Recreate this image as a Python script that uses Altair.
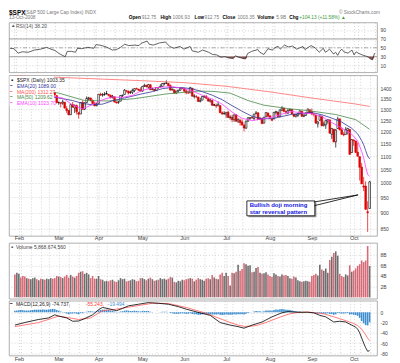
import datetime as dt
import numpy as np
import pandas as pd
import altair as alt

FONT = "Liberation Sans"
W = 369

# ---------------- trading days (2008) ----------------
JAN_DAYS = [30, 31]
FEB_DAYS = [1, 4, 5, 6, 7, 8, 11, 12, 13, 14, 15, 19, 20, 21, 22, 25, 26, 27, 28, 29]
MAR_DAYS = [3, 4, 5, 6, 7, 10, 11, 12, 13, 14, 17, 18, 19, 20, 24, 25, 26, 27, 28, 31]
APR_DAYS = [1, 2, 3, 4, 7, 8, 9, 10, 11, 14, 15, 16, 17, 18, 21, 22, 23, 24, 25, 28, 29, 30]
MAY_DAYS = [1, 2, 5, 6, 7, 8, 9, 12, 13, 14, 15, 16, 19, 20, 21, 22, 23, 27, 28, 29, 30]
JUN_DAYS = [2, 3, 4, 5, 6, 9, 10, 11, 12, 13, 16, 17, 18, 19, 20, 23, 24, 25, 26, 27, 30]
JUL_DAYS = [1, 2, 3, 7, 8, 9, 10, 11, 14, 15, 16, 17, 18, 21, 22, 23, 24, 25, 28, 29, 30, 31]
AUG_DAYS = [1, 4, 5, 6, 7, 8, 11, 12, 13, 14, 15, 18, 19, 20, 21, 22, 25, 26, 27, 28, 29]
SEP_DAYS = [2, 3, 4, 5, 8, 9, 10, 11, 12, 15, 16, 17, 18, 19, 22, 23, 24, 25, 26, 29, 30]
OCT_DAYS = [1, 2, 3, 6, 7, 8, 9, 10, 13]

PREV_CLOSE = 1362.3

# ---------------- OHLC (open, high, low, close) ----------------
JAN_OHLC = [(1362.2, 1385.9, 1353.0, 1355.8), (1352.0, 1385.6, 1334.1, 1378.6)]
FEB_OHLC = [
    (1378.6, 1396.0, 1375.9, 1395.4), (1395.4, 1395.4, 1379.7, 1380.8), (1380.3, 1380.3, 1336.6, 1336.6),
    (1339.5, 1352.0, 1324.3, 1326.5), (1324.0, 1347.2, 1316.8, 1336.9), (1336.9, 1341.2, 1321.1, 1331.3),
    (1331.9, 1341.4, 1320.3, 1339.1), (1340.6, 1362.1, 1339.4, 1348.9), (1353.1, 1369.2, 1350.8, 1367.2),
    (1367.3, 1368.2, 1347.3, 1348.9), (1347.5, 1350.0, 1338.1, 1350.0), (1355.9, 1367.3, 1345.1, 1348.8),
    (1348.4, 1363.7, 1336.6, 1360.0), (1362.2, 1367.9, 1339.3, 1342.5), (1344.2, 1354.3, 1327.0, 1353.1),
    (1352.8, 1374.4, 1346.0, 1371.8), (1371.8, 1387.3, 1363.3, 1381.3), (1379.0, 1388.3, 1372.0, 1380.0),
    (1378.2, 1378.2, 1363.2, 1367.7), (1364.1, 1364.1, 1325.4, 1330.6)]
MAR_OHLC = [
    (1330.5, 1335.1, 1320.0, 1331.3), (1329.6, 1331.0, 1307.4, 1326.8), (1327.7, 1344.2, 1320.2, 1333.7),
    (1332.2, 1332.2, 1303.4, 1304.3), (1301.5, 1313.2, 1282.4, 1293.4), (1293.2, 1295.0, 1272.7, 1273.4),
    (1274.4, 1320.7, 1274.4, 1320.7), (1321.1, 1333.3, 1307.9, 1308.8), (1305.3, 1321.7, 1282.1, 1315.5),
    (1316.1, 1321.5, 1274.9, 1288.1), (1283.2, 1287.5, 1257.0, 1276.6), (1277.2, 1330.7, 1277.2, 1330.7),
    (1331.0, 1341.5, 1298.4, 1298.4), (1299.7, 1330.7, 1295.2, 1329.5), (1330.3, 1359.7, 1330.3, 1349.9),
    (1349.1, 1357.5, 1341.2, 1353.0), (1352.5, 1352.5, 1336.4, 1341.1), (1340.3, 1345.6, 1325.7, 1325.8),
    (1327.0, 1334.9, 1313.0, 1315.2), (1315.9, 1328.5, 1312.8, 1322.7)]
APR_OHLC = [
    (1326.4, 1370.2, 1326.4, 1370.2), (1370.0, 1378.0, 1361.6, 1367.5), (1365.7, 1375.7, 1358.7, 1369.3),
    (1369.9, 1380.9, 1362.8, 1370.4), (1373.7, 1386.7, 1369.0, 1372.5), (1370.2, 1370.2, 1360.6, 1365.5),
    (1365.5, 1368.4, 1350.0, 1354.5), (1355.4, 1367.2, 1350.1, 1360.6), (1358.0, 1358.0, 1331.2, 1332.8),
    (1332.2, 1335.6, 1326.2, 1328.3), (1331.7, 1337.7, 1324.4, 1334.4), (1337.0, 1365.5, 1337.0, 1364.7),
    (1363.4, 1368.6, 1357.3, 1365.6), (1369.0, 1395.9, 1369.0, 1390.3), (1387.7, 1390.2, 1379.3, 1388.2),
    (1386.4, 1386.4, 1369.8, 1375.9), (1378.4, 1387.9, 1372.2, 1379.9), (1380.5, 1397.7, 1371.1, 1388.8),
    (1387.9, 1399.1, 1380.0, 1397.8), (1398.0, 1402.9, 1394.4, 1396.4), (1395.6, 1397.0, 1386.7, 1390.9),
    (1391.2, 1404.6, 1384.3, 1385.6)]
MAY_OHLC = [
    (1386.0, 1410.1, 1383.1, 1409.3), (1409.2, 1422.7, 1406.3, 1413.9), (1415.3, 1415.3, 1404.4, 1407.5),
    (1405.6, 1421.6, 1397.1, 1418.3), (1417.5, 1419.5, 1391.2, 1392.6), (1394.3, 1402.4, 1389.4, 1397.7),
    (1394.9, 1394.9, 1384.1, 1388.3), (1389.4, 1404.1, 1386.2, 1403.6), (1404.4, 1406.3, 1396.3, 1403.0),
    (1405.7, 1420.2, 1405.7, 1408.7), (1408.4, 1424.4, 1406.9, 1423.6), (1423.9, 1425.8, 1414.4, 1425.4),
    (1425.3, 1440.2, 1421.6, 1426.6), (1424.5, 1424.5, 1409.1, 1413.4), (1414.1, 1419.1, 1388.8, 1390.7),
    (1390.8, 1399.1, 1390.2, 1394.4), (1392.2, 1392.2, 1373.7, 1375.9), (1376.0, 1387.4, 1373.1, 1385.4),
    (1386.5, 1391.3, 1378.2, 1390.8), (1390.5, 1406.3, 1388.6, 1398.3), (1398.4, 1404.5, 1398.1, 1400.4)]
JUN_OHLC = [
    (1399.6, 1399.6, 1377.8, 1385.7), (1386.4, 1393.1, 1370.1, 1377.7), (1376.3, 1388.2, 1371.7, 1377.2),
    (1377.5, 1404.1, 1377.5, 1404.1), (1400.1, 1400.1, 1359.9, 1360.7), (1360.8, 1370.6, 1350.6, 1361.8),
    (1359.0, 1366.8, 1351.6, 1358.4), (1357.1, 1357.1, 1335.5, 1335.5), (1335.8, 1353.0, 1331.3, 1339.9),
    (1341.8, 1360.0, 1341.7, 1360.0), (1358.9, 1364.7, 1352.1, 1360.1), (1360.7, 1366.6, 1350.5, 1350.9),
    (1349.6, 1349.6, 1333.4, 1337.8), (1336.9, 1347.7, 1330.5, 1342.8), (1341.0, 1341.0, 1314.5, 1317.9),
    (1319.8, 1323.8, 1315.3, 1318.0), (1317.2, 1326.0, 1304.4, 1314.3), (1314.5, 1335.6, 1314.5, 1322.0),
    (1316.3, 1316.3, 1283.2, 1283.2), (1283.6, 1289.5, 1272.0, 1278.4), (1278.1, 1290.3, 1274.9, 1280.0)]
JUL_OHLC = [
    (1276.7, 1285.3, 1260.7, 1284.9), (1285.8, 1292.2, 1261.5, 1261.5), (1263.0, 1271.5, 1252.0, 1262.9),
    (1262.9, 1274.0, 1240.7, 1252.3), (1251.8, 1274.2, 1242.8, 1273.7), (1273.4, 1277.4, 1244.6, 1244.7),
    (1245.3, 1257.7, 1236.8, 1253.4), (1248.7, 1257.3, 1225.4, 1239.5), (1241.6, 1253.5, 1225.0, 1228.3),
    (1226.8, 1234.4, 1200.4, 1214.9), (1214.7, 1245.5, 1211.4, 1245.4), (1246.3, 1262.3, 1241.5, 1260.3),
    (1258.2, 1262.2, 1251.8, 1260.7), (1261.8, 1267.7, 1255.7, 1260.0), (1257.1, 1277.4, 1248.8, 1277.0),
    (1278.9, 1291.2, 1276.1, 1282.2), (1283.2, 1283.2, 1251.5, 1252.5), (1253.5, 1263.2, 1251.8, 1257.8),
    (1257.8, 1260.1, 1234.4, 1234.4), (1236.4, 1263.2, 1236.4, 1263.2), (1264.5, 1284.3, 1264.5, 1284.3),
    (1281.4, 1284.9, 1266.0, 1267.4)]
AUG_OHLC = [
    (1269.4, 1270.5, 1254.5, 1260.3), (1253.3, 1260.5, 1247.5, 1249.0), (1254.9, 1284.9, 1254.7, 1284.9),
    (1284.0, 1291.7, 1276.0, 1289.2), (1286.5, 1286.5, 1264.3, 1266.1), (1266.3, 1297.9, 1262.1, 1296.3),
    (1294.4, 1313.2, 1291.4, 1305.3), (1304.8, 1304.8, 1285.6, 1289.6), (1288.6, 1294.0, 1274.9, 1285.8),
    (1282.1, 1300.1, 1276.8, 1292.9), (1293.9, 1302.1, 1290.7, 1298.2), (1298.1, 1300.2, 1274.5, 1278.6),
    (1276.7, 1276.7, 1263.1, 1266.7), (1267.3, 1276.0, 1261.2, 1274.5), (1271.1, 1281.4, 1264.4, 1277.7),
    (1277.6, 1293.1, 1277.6, 1292.2), (1290.5, 1290.5, 1264.9, 1266.8), (1267.0, 1275.7, 1263.2, 1271.5),
    (1271.3, 1285.1, 1270.0, 1281.7), (1283.8, 1300.7, 1283.8, 1300.7), (1296.5, 1296.5, 1282.7, 1282.8)]
SEP_OHLC = [
    (1287.8, 1303.0, 1272.2, 1277.6), (1276.6, 1280.6, 1265.6, 1275.0), (1271.8, 1271.8, 1232.8, 1236.8),
    (1233.2, 1244.9, 1217.2, 1242.3), (1249.5, 1274.4, 1247.1, 1267.8), (1268.0, 1268.7, 1224.5, 1224.5),
    (1227.5, 1243.9, 1221.6, 1232.0), (1229.0, 1250.0, 1211.5, 1249.1), (1245.9, 1255.1, 1233.8, 1251.7),
    (1250.9, 1250.9, 1192.7, 1192.7), (1188.3, 1214.8, 1169.3, 1213.6), (1210.3, 1210.3, 1155.9, 1156.4),
    (1157.1, 1211.1, 1133.5, 1206.5), (1213.1, 1265.1, 1213.1, 1255.1), (1255.4, 1255.4, 1205.6, 1207.1),
    (1207.6, 1219.2, 1188.2, 1188.2), (1188.8, 1197.4, 1179.8, 1185.9), (1187.9, 1220.0, 1187.9, 1209.2),
    (1204.5, 1215.8, 1187.5, 1213.3), (1209.1, 1209.1, 1106.4, 1106.4), (1113.8, 1168.0, 1113.8, 1166.4)]
OCT_OHLC = [
    (1164.2, 1167.0, 1140.8, 1161.1), (1160.6, 1160.6, 1111.4, 1114.3), (1115.2, 1153.8, 1098.1, 1099.2),
    (1097.6, 1097.6, 1008.0, 1056.9), (1057.6, 1072.9, 996.2, 996.2), (988.9, 1021.1, 971.0, 984.9),
    (988.4, 1005.3, 909.2, 909.9), (902.3, 936.4, 839.8, 899.2), (912.75, 1006.93, 912.75, 1003.35)]

# ---------------- volume (billions) ----------------
JAN_VOL = [4.3, 4.6]
FEB_VOL = [4.4, 3.7, 4.0, 3.9, 3.6, 3.5, 3.4, 3.6, 3.7, 3.4, 3.2, 3.5, 3.4, 3.3, 3.5, 3.4, 3.6, 3.5, 3.6, 4.0]
MAR_VOL = [3.9, 3.8, 3.6, 3.9, 4.2, 3.7, 4.2, 3.9, 3.7, 4.0, 4.6, 4.8, 4.9, 4.4, 4.6, 4.3, 3.6, 4.0, 3.5, 3.5]
APR_VOL = [4.0, 3.4, 3.3, 3.0, 3.1, 3.0, 3.2, 3.3, 3.0, 2.9, 3.2, 3.6, 3.4, 3.5, 3.0, 3.1, 3.2, 3.4, 3.3, 3.0, 3.1, 3.6]
MAY_VOL = [3.6, 3.4, 3.2, 3.5, 3.7, 3.4, 3.1, 3.2, 3.3, 3.6, 3.4, 3.5, 3.3, 3.5, 3.8, 3.7, 2.9, 2.8, 3.1, 3.0, 3.3]
JUN_VOL = [3.2, 3.4, 3.5, 3.6, 3.5, 3.0, 3.3, 3.6, 3.4, 3.3, 3.1, 3.5, 3.6, 3.4, 4.2, 3.7, 3.5, 3.4, 4.3, 4.6, 4.0]
JUL_VOL = [4.6, 4.0, 2.2, 4.6, 4.5, 4.8, 6.1, 5.0, 5.3, 6.4, 6.2, 5.9, 6.0, 4.7, 4.8, 5.5, 5.7, 4.6, 4.4, 4.5, 4.7, 4.3]
AUG_VOL = [4.0, 3.8, 4.5, 4.3, 4.0, 3.9, 4.3, 4.1, 4.2, 4.0, 3.6, 3.5, 3.9, 3.7, 3.2, 3.0, 2.9, 3.0, 3.1, 3.0, 2.9]
SEP_VOL = [4.0, 4.2, 4.4, 4.1, 6.1, 5.2, 5.0, 5.4, 4.6, 7.0, 7.6, 8.3, 8.6, 7.8, 4.4, 4.0, 3.8, 4.3, 4.1, 6.0, 4.8]
OCT_VOL = [5.0, 5.4, 5.9, 6.2, 6.9, 6.6, 6.9, 9.6, 5.87]

# ---------------- MACD histogram ----------------
JAN_HIST = [3.0, 3.5]
FEB_HIST = [4.0, 4.5, 4.0, 3.5, 3.5, 3.5, 4.0, 4.5, 5.0, 5.0, 5.0, 5.0, 5.5, 5.0, 5.0, 5.5, 6.0, 6.5, 6.0, 4.5]
MAR_HIST = [3.0, 1.5, 0.5, -1.0, -2.5, -4.0, -2.5, -2.5, -2.0, -3.0, -4.0, -1.5, -2.0, -0.5, 1.0, 2.0, 2.0, 1.5, 1.0, 1.5]
APR_HIST = [3.5, 4.5, 5.0, 5.0, 5.0, 4.5, 3.5, 3.0, 1.5, 0.5, 0.5, 1.5, 2.0, 3.0, 3.5, 3.0, 2.5, 2.5, 3.0, 2.5, 2.0, 1.5]
MAY_HIST = [2.5, 2.5, 2.5, 2.5, 1.0, 0.5, 0.0, 0.0, 0.0, 0.5, 1.0, 1.0, 1.0, 0.0, -1.5, -2.0, -3.0, -3.0, -3.0, -2.5, -2.0]
JUN_HIST = [-2.5, -3.0, -3.0, -2.0, -3.5, -4.0, -4.0, -5.0, -5.0, -4.0, -3.5, -3.5, -3.5, -3.5, -4.5, -4.5, -4.5, -4.0, -5.0, -5.5, -5.0]
JUL_HIST = [-4.5, -5.0, -5.0, -5.0, -4.0, -4.5, -4.0, -4.0, -4.0, -4.5, -3.0, -1.5, -0.5, 0.0, 1.5, 2.5, 2.0, 2.0, 1.0, 2.0, 3.5, 3.5]
AUG_HIST = [3.5, 3.0, 4.5, 5.5, 5.0, 6.0, 6.5, 6.0, 5.0, 5.0, 4.5, 3.5, 2.5, 2.0, 1.5, 1.5, 0.5, 0.0, 0.0, 0.5, 0.0]
SEP_HIST = [-0.5, -1.0, -2.0, -2.5, -1.5, -2.5, -3.0, -2.5, -2.0, -3.5, -3.5, -5.0, -4.0, -1.5, -2.0, -2.5, -2.5, -2.0, -1.5, -4.5, -4.0]
OCT_HIST = [-5.0, -5.5, -7.0, -11.0, -17.0, -21.5, -25.0, -25.6, -19.494]

# ---------------- indicator lines: (day index, value) ----------------
MA200 = [(0, 1462), (22, 1455), (42, 1447), (64, 1438), (85, 1428), (106, 1410), (128, 1382),
         (149, 1352), (170, 1325), (178, 1312.27)]
MA50 = [(0, 1425), (10, 1395), (22, 1376), (35, 1340), (47, 1338), (60, 1349), (76, 1372), (92, 1386),
        (100, 1384), (108, 1376), (117, 1340), (125, 1318), (137, 1302), (147, 1293), (161, 1275),
        (171, 1252), (178, 1209.62)]
EMA20 = [(0, 1368), (4, 1365), (9, 1350), (14, 1351), (19, 1357), (24, 1349), (29, 1340), (34, 1326),
         (39, 1320), (44, 1323), (49, 1339), (54, 1350), (59, 1361), (64, 1373), (69, 1383), (74, 1398),
         (79, 1404), (84, 1403), (89, 1397), (94, 1383), (99, 1366), (104, 1344), (109, 1316), (114, 1290),
         (119, 1267), (124, 1256), (129, 1256), (134, 1266), (139, 1276), (144, 1280), (149, 1284),
         (154, 1274), (159, 1259), (164, 1241), (169, 1214), (172, 1190), (174, 1162), (175, 1145),
         (176, 1122), (177, 1100), (178, 1089.00)]
EMA10 = [(0, 1350), (4, 1352), (9, 1350), (14, 1346), (19, 1360), (24, 1352), (29, 1319), (34, 1301),
         (39, 1321), (44, 1344), (49, 1357), (54, 1355), (59, 1365), (64, 1390), (69, 1401), (74, 1406),
         (79, 1408), (84, 1400), (89, 1386), (94, 1366), (99, 1347), (104, 1323), (109, 1286), (114, 1258),
         (119, 1248), (124, 1255), (129, 1263), (134, 1277), (139, 1289), (144, 1282), (149, 1279),
         (154, 1266), (159, 1239), (164, 1215), (169, 1189), (172, 1160), (174, 1118), (175, 1093),
         (176, 1059), (177, 1030), (178, 1023.70)]
RSI = [(0, 49), (2, 48), (4, 38), (6, 41), (9, 40), (12, 45), (15, 47), (18, 51), (20, 47), (22, 44),
       (24, 37), (27, 30), (28, 42), (30, 42), (32, 40), (33, 49), (35, 48), (38, 51), (41, 49), (42, 57),
       (44, 56), (47, 52), (50, 45), (52, 46), (54, 51), (56, 58), (58, 55), (61, 56), (63, 55), (64, 60),
       (67, 65), (68, 58), (70, 56), (73, 61), (76, 63), (78, 53), (80, 49), (83, 53), (85, 47), (88, 53),
       (89, 43), (92, 40), (94, 45), (97, 40), (99, 35), (101, 34), (103, 29), (105, 30), (107, 27),
       (109, 26), (110, 32), (113, 27), (115, 25), (116, 37), (118, 42), (121, 46), (122, 40), (124, 35),
       (126, 48), (128, 45), (130, 52), (131, 53), (132, 47), (134, 56), (136, 52), (138, 54), (140, 47),
       (143, 53), (144, 46), (147, 55), (149, 50), (151, 40), (153, 49), (154, 40), (155, 43), (156, 47),
       (158, 36), (159, 40), (160, 33), (161, 42), (162, 47), (163, 41), (165, 38), (167, 45), (168, 34),
       (169, 41), (170, 38), (172, 34), (174, 31), (175, 29), (176, 25), (177, 23), (178, 38.2)]
MACD = [(0, -25), (5, -20), (12, -14), (17, -11), (20, -5), (22, -7.5), (26, -11), (29, -17.5), (32, -17),
        (35, -12.5), (39, -5), (42, 5), (44, 9.4), (48, 6), (51, 3), (54, 7.5), (57, 12.5), (62, 15.6),
        (67, 18.8), (72, 17.5), (77, 15.6), (82, 11), (86, 6), (93, -1.3), (98, -6), (103, -20), (108, -25),
        (112, -28), (115, -31), (119, -25), (124, -19), (129, -9), (134, -1), (137, 1.2), (142, 0), (147, 0),
        (150, -1.2), (153, -6), (156, -9), (160, -19), (163, -17.5), (166, -19), (169, -25), (170, -27),
        (171, -29), (172, -33), (173, -40), (174, -50), (175, -60), (176, -69), (177, -76), (178, -74.737)]
SIGNAL = [(0, -28), (12, -20), (22, -7.5), (32, -14), (38, -11), (44, 3), (51, 6), (61, 12.5), (69, 17.5),
          (77, 17), (86, 9.4), (96, -2), (100, -8), (104, -14), (108, -20), (112, -25), (115, -27.5),
          (119, -27), (122, -25), (126, -20), (130, -14), (134, -8), (138, -3), (142, -0.5), (147, 0.5),
          (155, -3), (163, -12.5), (168, -19), (170, -22), (172, -26), (173, -29), (174, -33), (175, -38.5),
          (176, -44), (177, -50.4), (178, -55.243)]

MONTH_NAMES = ['Feb', 'Mar', 'Apr', 'May', 'Jun', 'Jul', 'Aug', 'Sep', 'Oct']

RED = '#e00000'
BLACK = '#000000'
VOLRED = '#d66a76'
VOLGRAY = '#6e6e6e'

# ---------------- build tables ----------------
months = [(1, JAN_DAYS, JAN_OHLC, JAN_VOL, JAN_HIST), (2, FEB_DAYS, FEB_OHLC, FEB_VOL, FEB_HIST),
          (3, MAR_DAYS, MAR_OHLC, MAR_VOL, MAR_HIST), (4, APR_DAYS, APR_OHLC, APR_VOL, APR_HIST),
          (5, MAY_DAYS, MAY_OHLC, MAY_VOL, MAY_HIST), (6, JUN_DAYS, JUN_OHLC, JUN_VOL, JUN_HIST),
          (7, JUL_DAYS, JUL_OHLC, JUL_VOL, JUL_HIST), (8, AUG_DAYS, AUG_OHLC, AUG_VOL, AUG_HIST),
          (9, SEP_DAYS, SEP_OHLC, SEP_VOL, SEP_HIST), (10, OCT_DAYS, OCT_OHLC, OCT_VOL, OCT_HIST)]
rows = []
dates = []
for m, days, ohlc, vol, hist in months:
    assert len(days) == len(ohlc) == len(vol) == len(hist), m
    for d, (o, h, l, c), v, hh in zip(days, ohlc, vol, hist):
        dates.append(dt.date(2008, m, d))
        rows.append(dict(o=o, h=h, l=l, c=c, vol=v, hist=hh))
df = pd.DataFrame(rows)
df['i'] = np.arange(len(df))
prev = df['c'].shift(1).fillna(PREV_CLOSE)
df['col'] = np.where(df['c'] < prev, RED, BLACK)
df['fill'] = np.where(df['c'] >= df['o'], '#ffffff', df['col'])
df['vcol'] = np.where(df['c'] < prev, VOLRED, VOLGRAY)

MONTH_IDX = [i for i in range(1, len(dates)) if dates[i].month != dates[i - 1].month]
WEEK_IDX = [i for i in range(1, len(dates)) if dates[i].isocalendar()[1] != dates[i - 1].isocalendar()[1]]
GRID_X = sorted(set(MONTH_IDX + WEEK_IDX))
LABEL_EXPR = (f"indexof({MONTH_IDX}, datum.value) >= 0 ? "
              f"{MONTH_NAMES}[indexof({MONTH_IDX}, datum.value)] : ''")

x_scale = alt.Scale(domain=[-0.44, 179.21], nice=False, zero=False)
GRID = dict(grid=True, gridColor='#c2c2c2', gridDash=[1, 2], gridWidth=0.7)


def x_axis(labels, pad=1):
    return alt.Axis(values=GRID_X, ticks=False, domain=False, labels=labels, labelExpr=LABEL_EXPR,
                    labelFont=FONT, labelFontSize=5.5, labelColor='#444', labelPadding=pad,
                    labelOverlap=False, labelFlush=False, title=None, **GRID)


def y_axis(values, expr):
    return alt.Axis(orient='right', values=values, ticks=False, domain=False, labelExpr=expr,
                    labelFont=FONT, labelFontSize=5, labelColor='#444', labelPadding=3,
                    labelOverlap=False, labelFlush=False, title=None, **GRID)


def txt(s, x, y, size=5.0, color='#333333', bold=False, align='left'):
    return alt.Chart(pd.DataFrame({'t': [s]})).mark_text(
        align=align, baseline='middle', fontSize=size, font=FONT,
        fontWeight='bold' if bold else 'normal', color=color
    ).encode(text='t:N', x=alt.value(x), y=alt.value(y))


def pts(lst):
    return pd.DataFrame(lst, columns=['i', 'v'])


# ---------------- header ----------------
hx = -8
header = alt.layer(
    txt('$SPX', 0, 3.4, size=6.5, color='#000', bold=True),
    txt('(S&P 500 Large Cap Index) INDX', 16, 3.6, size=4.8, color='#777'),
    txt('© StockCharts.com', 380 + hx, 3.4, size=4.8, color='#777', align='right'),
    txt('13-Oct-2008', 0, 8.6, size=4.8, color='#777'),
    txt('Open', 128 + hx, 8.6, size=4.8, color='#000', bold=True),
    txt('912.75', 141 + hx, 8.6, size=4.8, color='#777'),
    txt('High', 160 + hx, 8.6, size=4.8, color='#000', bold=True),
    txt('1006.93', 172 + hx, 8.6, size=4.8, color='#777'),
    txt('Low', 194 + hx, 8.6, size=4.8, color='#000', bold=True),
    txt('912.75', 204 + hx, 8.6, size=4.8, color='#777'),
    txt('Close', 222 + hx, 8.6, size=4.8, color='#000', bold=True),
    txt('1003.35', 237 + hx, 8.6, size=4.8, color='#777'),
    txt('Volume', 257 + hx, 8.6, size=4.8, color='#000', bold=True),
    txt('5.9B', 276 + hx, 8.6, size=4.8, color='#777'),
    txt('Chg', 289 + hx, 8.6, size=4.8, color='#000', bold=True),
    txt('+104.13 (+11.58%) ▲', 299 + hx, 8.6, size=4.8, color='#3a9a3a'),
).properties(width=W, height=11, view=alt.ViewBackground(stroke='transparent'))

# ---------------- RSI panel ----------------
rsi_y = alt.Scale(domain=[-5, 107], nice=False, zero=False)
rsi_ax = y_axis([10, 30, 50, 70, 90], "datum.value + ''")
rsi_df = pts(RSI)
rsi_df['lo'] = np.minimum(rsi_df['v'], 30)
rsi_x = alt.X('i:Q', scale=x_scale, axis=x_axis(False))
rsi = alt.layer(
    alt.Chart(pd.DataFrame({'v': [30, 70]})).mark_rule(color='#8a8a8a', strokeWidth=0.8).encode(
        y=alt.Y('v:Q', scale=rsi_y, axis=rsi_ax)),
    alt.Chart(pd.DataFrame({'v': [50]})).mark_rule(color='#8a8a8a', strokeWidth=0.7,
                                                   strokeDash=[4, 2, 1, 2]).encode(
        y=alt.Y('v:Q', scale=rsi_y, axis=rsi_ax)),
    alt.Chart(rsi_df).mark_area(color='#9c4f4f').encode(
        x=rsi_x, y=alt.Y('lo:Q', scale=rsi_y, axis=rsi_ax), y2=alt.datum(30)),
    alt.Chart(rsi_df).mark_line(color='#222222', strokeWidth=0.7).encode(
        x=rsi_x, y=alt.Y('v:Q', scale=rsi_y, axis=rsi_ax)),
    txt('▲', 2, 4, size=4.5, color='#555'),
    txt('RSI(14) 38.20', 7, 4, size=5, color='#555'),
).properties(width=W, height=50)

# ---------------- price panel ----------------
p_scale = alt.Scale(type='log', domain=[828, 1466], nice=False)
p_ax = y_axis(list(range(850, 1401, 50)), "datum.value + ''")
px = alt.X('i:Q', scale=x_scale, axis=x_axis(True, pad=0))


def pline(lst, color):
    return alt.Chart(pts(lst)).mark_line(color=color, strokeWidth=0.8).encode(
        x=px, y=alt.Y('v:Q', scale=p_scale, axis=p_ax))


callout_box = pd.DataFrame({'i': [116.4], 'i2': [150.5], 'p': [937.6], 'p2': [889.2]})
callout_shadow = pd.DataFrame({'i': [117.2], 'i2': [151.3], 'p': [932.7], 'p2': [884.6]})
pointer = pd.DataFrame({'i': [150.0, 150.3], 'p': [934.0, 922.0], 'i2': [172.2, 172.2], 'p2': [958.0, 958.0]})
callout_text = pd.DataFrame({'i': [117.8, 117.8], 'p': [924.5, 902.3],
                             't': ['Bullish doji morning', 'star reversal pattern']})

base = alt.Chart(df)
price = alt.layer(
    base.mark_rule(strokeWidth=0.7).encode(
        x=px, y=alt.Y('l:Q', scale=p_scale, axis=p_ax), y2='h:Q', color=alt.Color('col:N', scale=None)),
    base.mark_bar(size=1.7, strokeWidth=0.6).encode(
        x=px, y=alt.Y('o:Q', scale=p_scale, axis=p_ax), y2='c:Q',
        fill=alt.Fill('fill:N', scale=None), stroke=alt.Stroke('col:N', scale=None)),
    pline(MA200, '#ff6a6a'),
    pline(MA50, '#4a8a4a'),
    pline(EMA20, '#35359a'),
    pline(EMA10, '#ff3cff'),
    alt.Chart(pd.DataFrame({'a': [0]})).mark_rect(color='white').encode(
        x=alt.value(0.6), x2=alt.value(45), y=alt.value(0.6), y2=alt.value(31)),
    txt('▪', 2, 5, size=6, color='#000'),
    txt('$SPX (Daily) 1003.35', 8, 5, size=5, color='#222'),
    txt('━', 1.5, 10.7, size=4.5, color='#35359a'),
    txt('EMA(20) 1089.00', 8, 10.7, size=5, color='#35359a'),
    txt('━', 1.5, 16.3, size=4.5, color='#ff5050'),
    txt('MA(200) 1312.27', 8, 16.3, size=5, color='#ff5050'),
    txt('━', 1.5, 22, size=4.5, color='#4a8a4a'),
    txt('MA(50) 1209.62', 8, 22, size=5, color='#4a8a4a'),
    txt('━', 1.5, 27.7, size=4.5, color='#ff3cff'),
    txt('EMA(10) 1023.70', 8, 27.7, size=5, color='#ff3cff'),
    alt.Chart(callout_shadow).mark_rect(color='#9a9a9a').encode(
        x=px, x2='i2:Q', y=alt.Y('p:Q', scale=p_scale, axis=p_ax), y2='p2:Q'),
    alt.Chart(callout_box).mark_rect(fill='white', stroke='#000', strokeWidth=0.8).encode(
        x=px, x2='i2:Q', y=alt.Y('p:Q', scale=p_scale, axis=p_ax), y2='p2:Q'),
    alt.Chart(pointer).mark_rule(color='#000', strokeWidth=0.8).encode(
        x=px, x2='i2:Q', y=alt.Y('p:Q', scale=p_scale, axis=p_ax), y2='p2:Q'),
    alt.Chart(callout_text).mark_text(align='left', baseline='middle', fontSize=6, font=FONT,
                                      fontWeight='bold', color='#1515e0').encode(
        x=px, y=alt.Y('p:Q', scale=p_scale, axis=p_ax), text='t:N'),
).properties(width=W, height=161)

# ---------------- volume panel ----------------
v_scale = alt.Scale(domain=[-0.25, 10.2], nice=False, zero=False)
v_ax = y_axis([2, 4, 6, 8], "datum.value + 'B'")
vol = alt.layer(
    base.mark_bar(size=1.6).encode(
        x=alt.X('i:Q', scale=x_scale, axis=x_axis(False)),
        y=alt.Y('vol:Q', scale=v_scale, axis=v_ax), y2=alt.datum(0),
        color=alt.Color('vcol:N', scale=None)),
    txt('▪', 2, 4.5, size=6, color='#444'),
    txt('Volume 5,868,674,560', 7, 4.5, size=5, color='#444'),
).properties(width=W, height=56)

# ---------------- MACD panel ----------------
m_scale = alt.Scale(domain=[-84.3, 22.5], nice=False, zero=False)
m_ax = y_axis([0, -20, -40, -60, -80], "datum.value + ''")
mx = alt.X('i:Q', scale=x_scale, axis=x_axis(True, pad=1))
macd = alt.layer(
    base.mark_bar(size=1.6, color='#3f8fcf').encode(
        x=mx, y=alt.Y('hist:Q', scale=m_scale, axis=m_ax), y2=alt.datum(0)),
    alt.Chart(pts(SIGNAL)).mark_line(color='#ff5a5a', strokeWidth=0.8).encode(
        x=mx, y=alt.Y('v:Q', scale=m_scale, axis=m_ax)),
    alt.Chart(pts(MACD)).mark_line(color='#000', strokeWidth=0.8).encode(
        x=mx, y=alt.Y('v:Q', scale=m_scale, axis=m_ax)),
    txt('━', 1.5, 3.8, size=4.5, color='#000'),
    txt('MACD(12,26,9) -74.737,', 7, 3.8, size=5, color='#222'),
    txt('-55.243,', 77, 3.8, size=5, color='#ff4040'),
    txt('-19.494', 99, 3.8, size=5, color='#3f8fcf'),
).properties(width=W, height=55)

chart = alt.vconcat(header, rsi, price, vol, macd, spacing=0, bounds='full').properties(
    padding=0, background='white'
).configure_view(stroke='#9a9a9a', strokeWidth=0.8)

chart.save("out.html", embed_options={"renderer": "svg", "actions": False})
